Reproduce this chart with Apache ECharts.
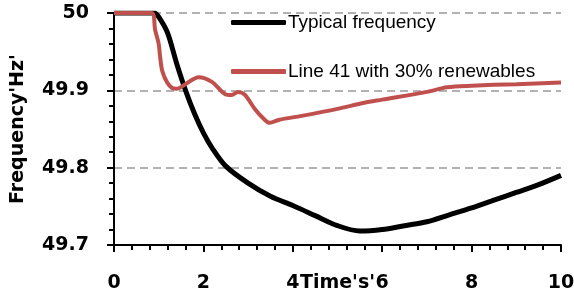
<!DOCTYPE html>
<html>
<head>
<meta charset="utf-8">
<script src="https://cdn.jsdelivr.net/npm/echarts@6/dist/echarts.min.js"></script>
<style>
  html, body { margin: 0; padding: 0; background: #ffffff; }
  #chart { width: 574px; height: 296px; }
</style>
</head>
<body>
<div id="chart"></div>
<script>
// 数据
const typicalTime = [0, 0.9, 1.0, 1.2, 1.4, 1.6, 1.8, 2.0, 2.2, 2.5, 3.0, 3.5, 4.0, 4.5, 5.0, 5.5, 6.0, 6.5, 7.0, 7.5, 8.0, 8.5, 9.0, 9.5, 10]
const typicalFreq = [50, 50, 49.995, 49.974, 49.935, 49.9, 49.87, 49.845, 49.825, 49.802, 49.78, 49.763, 49.751, 49.738, 49.725, 49.718, 49.72, 49.725, 49.73, 49.739, 49.748, 49.758, 49.768, 49.778, 49.79]

const renewTime = [0, 0.84, 0.92, 1.0, 1.03, 1.08, 1.19, 1.3, 1.4, 1.6, 1.89, 2.19, 2.49, 2.63, 2.78, 2.93, 3.15, 3.37, 3.48, 3.7, 4.2, 5.0, 5.6, 6.0, 7.0, 7.45, 8.0, 9.0, 10]
const renewFreq = [50, 50, 49.978, 49.96, 49.944, 49.925, 49.91, 49.903, 49.902, 49.908, 49.917, 49.911, 49.895, 49.894, 49.898, 49.894, 49.876, 49.862, 49.858, 49.862, 49.867, 49.876, 49.884, 49.888, 49.898, 49.904, 49.906, 49.908, 49.91]

const seriesNames = ['Typical frequency', 'Line 41 with 30% renewables']

const zip = (a, b) => a.map((v, i) => [v, b[i]])

let option = {
  animation: false,
  grid: { left: 114, right: 13, top: 13, bottom: 51, outerBoundsMode: 'none' },
  legend: {
    orient: 'vertical',
    left: 226,
    top: 8,
    icon: 'roundRect',
    itemWidth: 55,
    itemHeight: 5,
    itemGap: 30,
    textStyle: { fontFamily: 'Liberation Sans', fontSize: 19, color: '#000', padding: [0, 0, 0, -3] },
    data: seriesNames
  },
  xAxis: {
    type: 'value',
    min: 0,
    max: 10,
    interval: 2,
    name: "Time's'",
    nameLocation: 'middle',
    nameGap: 29,
    nameMoveOverlap: false,
    nameTextStyle: { fontFamily: 'DejaVu Sans', fontWeight: 'bold', fontSize: 19, color: '#000' },
    axisLine: { show: true, onZero: false, lineStyle: { color: '#000000', width: 2 } },
    axisTick: { show: true, length: 7, lineStyle: { color: '#000000', width: 2 } },
    minorTick: { show: true, splitNumber: 5, length: 5, lineStyle: { color: '#000000', width: 2 } },
    axisLabel: {
      margin: 29,
      fontFamily: 'DejaVu Sans', fontWeight: 'bold', fontSize: 19, color: '#000'
    },
    splitLine: { show: false }
  },
  yAxis: {
    type: 'value',
    min: 49.7,
    max: 50,
    interval: 0.1,
    name: "Frequency'Hz'",
    nameLocation: 'middle',
    nameGap: 86,
    nameMoveOverlap: false,
    nameTextStyle: { fontFamily: 'DejaVu Sans', fontWeight: 'bold', fontSize: 19, color: '#000' },
    axisLine: { show: true, lineStyle: { color: '#000000', width: 2 } },
    axisTick: { show: true, length: 7, lineStyle: { color: '#000000', width: 2 } },
    minorTick: { show: true, splitNumber: 5, length: 5, lineStyle: { color: '#000000', width: 2 } },
    axisLabel: {
      margin: 25,
      fontFamily: 'DejaVu Sans', fontWeight: 'bold', fontSize: 19, color: '#000',
      formatter: v => String(+v.toFixed(1))
    },
    splitLine: { show: true, lineStyle: { color: '#999', width: 1.5, type: [8, 5] } }
  },
  series: [
    {
      name: seriesNames[0],
      type: 'line',
      data: zip(typicalTime, typicalFreq),
      smooth: 0.3,
      symbol: 'none',
      itemStyle: { color: '#000000' },
      lineStyle: { color: '#000000', width: 5 },
      z: 3
    },
    {
      name: seriesNames[1],
      type: 'line',
      data: zip(renewTime, renewFreq),
      smooth: 0.3,
      symbol: 'none',
      itemStyle: { color: '#C0504D' },
      lineStyle: { color: '#C0504D', width: 4 },
      z: 4
    }
  ]
}

let chart = echarts.init(document.getElementById('chart'))
chart.setOption(option)
</script>
</body>
</html>
